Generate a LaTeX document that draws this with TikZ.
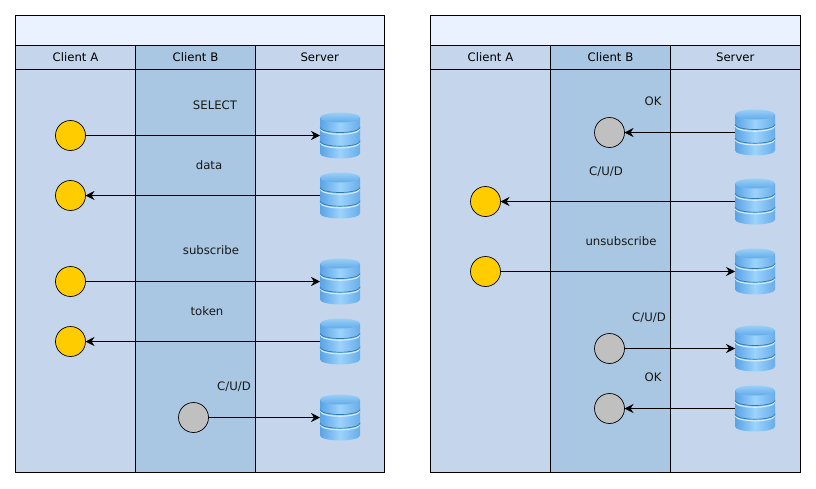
\documentclass[tikz,border=0pt]{standalone}
\usepackage{fontspec}
\setmainfont{DejaVu Sans}
\usetikzlibrary{positioning,arrows.meta}
\definecolor{lanelight}{HTML}{C5D6EC}
\definecolor{lanedark}{HTML}{A9C7E2}
\definecolor{titlefill}{HTML}{EAF2FF}
\definecolor{actorgold}{HTML}{FFCC00}
\definecolor{actorgray}{HTML}{C0C0C0}
\definecolor{dbedge}{HTML}{5AA3E5}
\definecolor{dbmid}{HTML}{9CD3FC}
\definecolor{dbtop}{HTML}{62ABEA}
\definecolor{dbrim}{HTML}{9AD0F8}
\definecolor{dbline}{HTML}{2F78B8}
\tikzset{
  dbstack/.pic={
    \begin{scope}[y=1pt]
      % bottom disc
      \shade[left color=dbedge,right color=dbedge!80!dbmid,middle color=dbmid]
        (-20,-4) -- (-20,-18) arc[start angle=180,end angle=360,x radius=20,y radius=5] -- (20,-4) -- cycle;
      \draw[white!55!dbmid,line width=1.2pt] (-19.5,-7.3) arc[start angle=180,end angle=360,x radius=19.5,y radius=5];
      % middle disc
      \shade[left color=dbedge,right color=dbedge!80!dbmid,middle color=dbmid]
        (-20,9) -- (-20,-5.7) arc[start angle=180,end angle=360,x radius=20,y radius=5] -- (20,9) -- cycle;
      \draw[dbline,line width=.7pt] (-20,-5.7) arc[start angle=180,end angle=360,x radius=20,y radius=5];
      \draw[white!55!dbmid,line width=1.2pt] (-19.5,6.3) arc[start angle=180,end angle=360,x radius=19.5,y radius=5];
      % top disc
      \shade[left color=dbedge,right color=dbedge!80!dbmid,middle color=dbmid]
        (-20,18) -- (-20,8) arc[start angle=180,end angle=360,x radius=20,y radius=5] -- (20,18) -- cycle;
      \draw[dbline,line width=.7pt] (-20,8) arc[start angle=180,end angle=360,x radius=20,y radius=5];
      \shade[top color=dbrim,bottom color=dbtop] (0,18) ellipse[x radius=20,y radius=5];
    \end{scope}
  }
}
\begin{document}
\begin{tikzpicture}[x=1pt,y=-1pt,font=\fontsize{11.7}{14}\selectfont,line width=.85pt,outer sep=0pt,>={Stealth[length=9pt,width=9pt,inset=3pt]}]
  \tikzstyle{lane}=[draw,minimum width=120,anchor=north west,inner sep=0]
  \tikzstyle{head}=[lane,minimum height=24]
  \tikzstyle{body}=[lane,minimum height=403]
  \tikzstyle{title}=[draw,fill=titlefill,minimum height=30,anchor=north west,inner sep=0]
  \tikzstyle{gold actor}=[circle,draw,fill=actorgold,minimum size=30,inner sep=0,line width=.7pt]
  \tikzstyle{gray actor}=[circle,draw,fill=actorgray,minimum size=30,inner sep=0,line width=.7pt]
  \tikzstyle{dbnode}=[minimum width=40,minimum height=46,inner sep=0]
  \tikzstyle{msg}=[text=black!90,inner sep=0]
  \useasboundingbox (0,0) rectangle (816,488);
  % two pools
  \foreach \p/\x/\w in {l/15.5/128.5,r/430.5/129.5}{
    \pgfmathsetlengthmacro{\allw}{\w+240}
    \node[title,minimum width=\allw] (\p title) at (\x,15.5) {};
    \node[head,fill=lanelight] (\p heada) at (\x,45.5) {Client A};
    \node[head,fill=lanedark,right=0pt of \p heada] (\p headb) {Client B};
    \node[head,fill=lanelight,minimum width=\w,right=0pt of \p headb] (\p heads) {Server};
    \node[body,fill=lanelight,below=0pt of \p heada.south west,anchor=north west] (\p bodya) {};
    \node[body,fill=lanedark,right=0pt of \p bodya] (\p bodyb) {};
    \node[body,fill=lanelight,minimum width=\w,right=0pt of \p bodyb] (\p bodys) {};
  }
  % left pool
  \node[gold actor] (a1) at (70.5,135.5) {};
  \node[gold actor] (a2) at (70.5,195.5) {};
  \node[gold actor] (a3) at (70.5,281.5) {};
  \node[gold actor] (a4) at (70.5,341.5) {};
  \node[gray actor] (b1) at (193.5,417.5) {};
  % right pool
  \node[gray actor] (c1) at (609.5,132.5) {};
  \node[gold actor] (c2) at (485.5,201.5) {};
  \node[gold actor] (c3) at (485.5,271.5) {};
  \node[gray actor] (c4) at (609.5,348.5) {};
  \node[gray actor] (c5) at (609.5,408.5) {};
  \foreach \n/\x/\y in {s1/340/135.5,s2/340/195.5,s3/340/281.5,s4/340/341.5,s5/340/417.5,t1/755/132.5,t2/755/201.5,t3/755/271.5,t4/755/348.5,t5/755/408.5}{
    \node[dbnode] (\n) at (\x,\y) {};
    \pic at (\n) {dbstack};
  }
  \draw[->] (a1) -- (s1);
  \draw[->] (s2) -- (a2);
  \draw[->] (a3) -- (s3);
  \draw[->] (s4) -- (a4);
  \draw[->] (b1) -- (s5);
  \draw[->] (t1) -- (c1);
  \draw[->] (t2) -- (c2);
  \draw[->] (c3) -- (t3);
  \draw[->] (c4) -- (t4);
  \draw[->] (t5) -- (c5);
  \node[msg] (m1) at (215,105.5) {SELECT};
  \node[msg] (m2) at (209,165.5) {data};
  \node[msg] (m3) at (211,250.5) {subscribe};
  \node[msg] (m4) at (207,311) {token};
  \node[msg] (m5) at (234,386.5) {C/U/D};
  \node[msg] (n1) at (653,101.5) {OK};
  \node[msg] (n2) at (606,171.5) {C/U/D};
  \node[msg] (n3) at (621,241) {unsubscribe};
  \node[msg] (n4) at (649,317.5) {C/U/D};
  \node[msg] (n5) at (653,377.5) {OK};
\end{tikzpicture}
\end{document}
